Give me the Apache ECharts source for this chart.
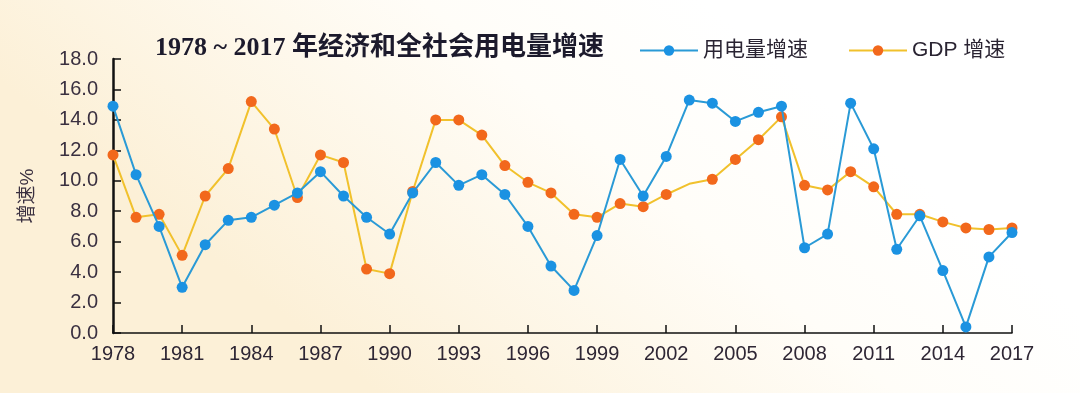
<!DOCTYPE html>
<html>
<head>
<meta charset="utf-8">
<script src="https://cdn.jsdelivr.net/npm/echarts@6/dist/echarts.min.js"></script>
<style>
html,body{margin:0;padding:0;width:1080px;height:393px;overflow:hidden;}
#chart{width:1080px;height:393px;}
</style>
</head>
<body>
<div id="chart"></div>
<script>
const years = ['1978','1979','1980','1981','1982','1983','1984','1985','1986','1987','1988','1989','1990','1991','1992','1993','1994','1995','1996','1997','1998','1999','2000','2001','2002','2003','2004','2005','2006','2007','2008','2009','2010','2011','2012','2013','2014','2015','2016','2017'];
const electricityGrowth = [14.9,10.4,7.0,3.0,5.8,7.4,7.6,8.4,9.2,10.6,9.0,7.6,6.5,9.2,11.2,9.7,10.4,9.1,7.0,4.4,2.8,6.4,11.4,9.0,11.6,15.3,15.1,13.9,14.5,14.9,5.6,6.5,15.1,12.1,5.5,7.7,4.1,0.4,5.0,6.6];
const gdpGrowth = [11.7,7.6,7.8,5.1,9.0,10.8,15.2,13.4,8.9,11.7,11.2,4.2,3.9,9.3,14.0,14.0,13.0,11.0,9.9,9.2,7.8,7.6,8.5,8.3,9.1,9.8,10.1,11.4,12.7,14.2,9.7,9.4,10.6,9.6,7.8,7.8,7.3,6.9,6.8,6.9];
const gdpNoMarkerYears = ['2003'];
const yTicks = ['0.0','2.0','4.0','6.0','8.0','10.0','12.0','14.0','16.0','18.0'];
const titleText = '1978 ~ 2017 年经济和全社会用电量增速';
const seriesNames = ['用电量增速', 'GDP 增速'];
const yAxisName = '增速%';

const chart = echarts.init(document.getElementById('chart'));
const gdpData = gdpGrowth.map((v, i) => gdpNoMarkerYears.includes(years[i]) ? {value: v, symbol: 'none'} : v);
const sans = "'Liberation Sans', Arial, 'Noto Sans CJK SC', sans-serif";

chart.setOption({
  backgroundColor: new echarts.graphic.LinearGradient(0.65, 0, 0.35, 1, [
    {offset: 0, color: '#ffffff'},
    {offset: 0.35, color: '#fffdf8'},
    {offset: 1, color: '#fcf0d7'}
  ]),
  animation: false,
  title: {
    text: titleText,
    left: 150,
    top: 30,
    textStyle: {
      fontFamily: "'Liberation Serif', 'DejaVu Serif', 'Noto Sans CJK SC', serif",
      fontWeight: 'bold',
      fontSize: 26,
      color: '#1c1a2c'
    }
  },
  legend: {
    left: 634,
    top: 35,
    itemWidth: 58,
    itemHeight: 13,
    itemGap: 40,
    textStyle: {fontFamily: sans, fontSize: 21, color: '#2a2432'},
    data: seriesNames
  },
  grid: {left: 113, right: 68, top: 59, bottom: 60},
  xAxis: {
    type: 'category',
    data: years,
    boundaryGap: false,
    axisLine: {lineStyle: {color: '#111', width: 1.5}},
    axisTick: {inside: true, length: 8, interval: 2, lineStyle: {color: '#111', width: 1.5}},
    axisLabel: {interval: 2, fontFamily: sans, fontSize: 20, color: '#2e2634', margin: 11},
    splitLine: {show: false}
  },
  yAxis: {
    type: 'value',
    min: 0,
    max: 18,
    interval: 2,
    name: yAxisName,
    nameLocation: 'middle',
    nameGap: 76,
    nameRotate: 90,
    nameTextStyle: {fontFamily: sans, fontSize: 19, color: '#3a3040'},
    axisLine: {show: true, lineStyle: {color: '#111', width: 2.5}},
    axisTick: {show: true, inside: true, length: 8, lineStyle: {color: '#111', width: 1.5}},
    axisLabel: {
      fontFamily: sans, fontSize: 20, color: '#3a3040', margin: 15,
      formatter: (v) => yTicks[Math.round(v / 2)]
    },
    splitLine: {show: false}
  },
  series: [
    {
      name: seriesNames[0],
      type: 'line',
      data: electricityGrowth,
      symbol: 'circle',
      symbolSize: 11,
      lineStyle: {color: '#2a9ad6', width: 2},
      itemStyle: {color: '#1b92e2'},
      z: 3
    },
    {
      name: seriesNames[1],
      type: 'line',
      data: gdpData,
      symbol: 'circle',
      symbolSize: 11,
      lineStyle: {color: '#f1c12c', width: 2},
      itemStyle: {color: '#f2681c'},
      z: 2
    }
  ]
});
</script>
</body>
</html>
